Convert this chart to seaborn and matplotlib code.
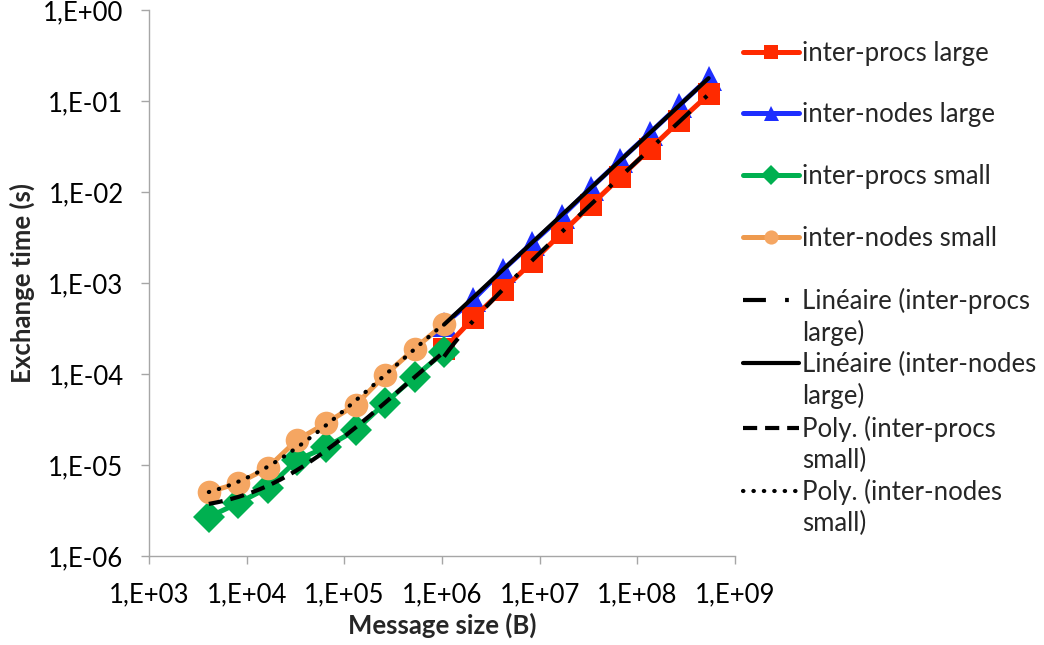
import numpy as np
import pandas as pd
import matplotlib
matplotlib.use("Agg")
import matplotlib.pyplot as plt
from matplotlib.lines import Line2D
import seaborn as sns

# ---------------- data ----------------
small_sizes = [4096, 8192, 16384, 32768, 65536, 131072, 262144, 524288, 1048576]
large_sizes = [1048576, 2097152, 4194304, 8388608, 16777216, 33554432,
               67108864, 134217728, 268435456, 536870912]

inter_procs_small = [2.68e-6, 3.82e-6, 5.6e-6, 1.13e-5, 1.58e-5, 2.42e-5, 4.8e-5, 9.3e-5, 1.75e-4]
inter_nodes_small = [5.05e-6, 6.3e-6, 9.3e-6, 1.88e-5, 2.9e-5, 4.6e-5, 9.75e-5, 1.90e-4, 3.55e-4]
inter_procs_large = [1.88e-4, 4.12e-4, 8.4e-4, 1.70e-3, 3.54e-3, 7.2e-3, 1.46e-2, 2.95e-2, 5.98e-2, 0.118]
inter_nodes_large = [3.5e-4, 6.6e-4, 1.39e-3, 2.75e-3, 5.4e-3, 1.11e-2, 2.24e-2, 4.45e-2, 8.95e-2, 0.178]

xticks = [1e3, 1e4, 1e5, 1e6, 1e7, 1e8, 1e9]
xtick_labels = ["1,E+03", "1,E+04", "1,E+05", "1,E+06", "1,E+07", "1,E+08", "1,E+09"]
yticks = [1e-6, 1e-5, 1e-4, 1e-3, 1e-2, 1e-1, 1e0]
ytick_labels = ["1,E-06", "1,E-05", "1,E-04", "1,E-03", "1,E-02", "1,E-01", "1,E+00"]

labels = ["inter-procs large", "inter-nodes large", "inter-procs small", "inter-nodes small",
          "Linéaire (inter-procs\nlarge)", "Linéaire (inter-nodes\nlarge)",
          "Poly. (inter-procs\nsmall)", "Poly. (inter-nodes\nsmall)"]

# ---------------- style ----------------
sns.set_theme(style="white")
plt.rcParams["font.family"] = ["Lato", "DejaVu Sans"]
FS = 18.5

RED = "#FF2A00"
BLUE = "#1E2EFF"
GREEN = "#00B050"
ORANGE_L = "#EE9A4E"
ORANGE_M = "#F5A662"
GRAY = "#A6A6A6"

fig = plt.figure(figsize=(10.44, 6.45), dpi=100)
ax = fig.add_axes([149 / 1044, 1 - 556 / 645, (735 - 149) / 1044, (556 - 10) / 645])

LW = 3.6

h_bl = sns.lineplot(x=large_sizes, y=inter_nodes_large, ax=ax, color=BLUE, lw=LW,
                    marker="^", markersize=18, markeredgewidth=0, zorder=2).lines[-1]
h_rl = sns.lineplot(x=large_sizes, y=inter_procs_large, ax=ax, color=RED, lw=LW,
                    marker="s", markersize=16, markeredgewidth=0, zorder=3).lines[-1]
h_gs = sns.lineplot(x=small_sizes, y=inter_procs_small, ax=ax, color=GREEN, lw=LW,
                    marker="D", markersize=16.5, markeredgewidth=0, zorder=4).lines[-1]
h_os = sns.lineplot(x=small_sizes, y=inter_nodes_small, ax=ax, color=ORANGE_L, lw=LW,
                    marker="o", markersize=17, markerfacecolor=ORANGE_M,
                    markeredgewidth=0, zorder=5).lines[-1]

# ---------------- trend lines (Excel-like fits in linear space) ----------------
TLW = 3.0
xl = np.geomspace(large_sizes[0], large_sizes[-1], 200)
xs = np.geomspace(small_sizes[0], small_sizes[-1], 200)
fit_pl = np.polyval(np.polyfit(large_sizes, inter_procs_large, 1), xl)
fit_nl = np.polyval(np.polyfit(large_sizes, inter_nodes_large, 1), xl)
fit_ps = np.polyval(np.polyfit(small_sizes, inter_procs_small, 2), xs)
fit_ns = np.polyval(np.polyfit(small_sizes, inter_nodes_small, 2), xs)

t1, = ax.plot(xl, fit_pl, color="black", lw=TLW, dashes=(5.5, 4.6, 0.9, 4.6), zorder=6)
t2, = ax.plot(xl, fit_nl, color="black", lw=TLW, zorder=6)
t3, = ax.plot(xs, fit_ps, color="black", lw=TLW, dashes=(3.4, 1.9), zorder=6)
t4, = ax.plot(xs, fit_ns, color="black", lw=TLW, dashes=(0.1, 2.4),
              dash_capstyle="round", zorder=6)

# ---------------- axes ----------------
ax.set_xscale("log")
ax.set_yscale("log")
ax.set_xlim(xticks[0], xticks[-1])
ax.set_ylim(yticks[0], yticks[-1])
ax.minorticks_off()
ax.set_xticks(xticks)
ax.set_xticklabels(xtick_labels)
ax.set_yticks(yticks)
ax.set_yticklabels(ytick_labels)
ax.tick_params(axis="both", which="major", direction="out", length=5.8, width=1.0,
               color=GRAY, labelsize=FS, labelcolor="black")
ax.tick_params(axis="y", pad=12.5, left=True)
ax.tick_params(axis="x", pad=13, bottom=True)
for s in ["top", "right"]:
    ax.spines[s].set_visible(False)
for s in ["left", "bottom"]:
    ax.spines[s].set_color(GRAY)
    ax.spines[s].set_linewidth(1.0)
ax.grid(False)

ax.set_xlabel("Message size (B)", fontsize=FS, fontweight="bold")
ax.set_ylabel("Exchange time (s)", fontsize=FS, fontweight="bold")
ax.xaxis.set_label_coords(0.5, -0.1035)
ax.yaxis.set_label_coords(-0.1945, 0.5)

# ---------------- legend ----------------
blank = Line2D([], [], linestyle="none")
handles = [h_rl, blank, h_bl, blank, h_gs, blank, h_os, blank,
           t1, blank, t2, blank, t3, blank, t4, blank]
leg_labels = []
for lab in labels[:4]:
    leg_labels += [lab, " "]
for lab in labels[4:]:
    a, b = lab.split("\n")
    leg_labels += [a, b]
fig.legend(handles, leg_labels, loc="upper left", bbox_to_anchor=(743 / 1044, 1 - 40.5 / 645),
           frameon=False, fontsize=FS, borderpad=0, borderaxespad=0, handlelength=2.18,
           handletextpad=0.12, labelspacing=0.232, markerscale=0.6)

fig.savefig("out.png", dpi=100)
